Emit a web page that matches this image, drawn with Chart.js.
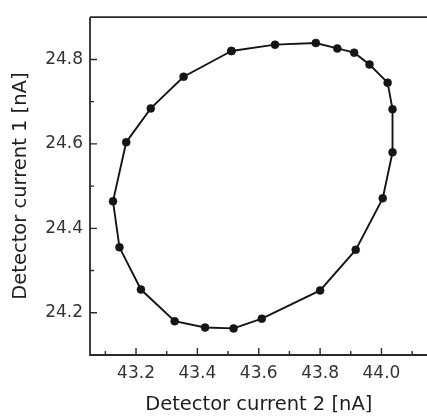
<!DOCTYPE html>
<html>
<head>
<meta charset="utf-8">
<script src="https://cdn.jsdelivr.net/npm/chart.js@4/dist/chart.umd.min.js"></script>
<style>
  html, body { margin: 0; padding: 0; background: #fff; overflow: hidden; }
  #wrap { width: 432px; height: 416px; }
</style>
</head>
<body>
<div id="wrap"><canvas id="loopChart" width="432" height="416"></canvas></div>
<script>
// Measured loop: detector current 2 (x) vs detector current 1 (y), in nA
const current2 = [43.511, 43.653, 43.786, 43.856, 43.911, 43.961, 44.020, 44.036,
	44.036, 44.004, 43.916, 43.800, 43.610, 43.518, 43.425, 43.326, 43.216, 43.146,
	43.125, 43.168, 43.248, 43.355];
const current1 = [24.820, 24.835, 24.839, 24.826, 24.816, 24.788, 24.745, 24.682,
	24.580, 24.471, 24.349, 24.253, 24.186, 24.163, 24.165, 24.180, 24.255, 24.355,
	24.464, 24.604, 24.684, 24.759];

// Tick values
const xMajorTicks = [43.2, 43.4, 43.6, 43.8, 44.0];
const xMinorTicks = [43.1, 43.3, 43.5, 43.7, 43.9, 44.1];
const yMajorTicks = [24.2, 24.4, 24.6, 24.8];
const yMinorTicks = [24.3, 24.5, 24.7];

const ink = "#151515";

// closed loop: go back to the first point at the end
const points = current2.map((x, i) => ({ x: x, y: current1[i] }));
points.push({ x: current2[0], y: current1[0] });

// Frame and inward tick marks
const framePlugin = {
	id: "frame",
	afterDatasetsDraw(chart) {
		const { ctx, chartArea, scales } = chart;
		const { left, top, right, bottom } = chartArea;
		ctx.save();
		ctx.strokeStyle = "#2a2a2a";
		ctx.lineWidth = 1.8;
		ctx.beginPath();
		ctx.moveTo(left, top);
		ctx.lineTo(right, top);
		ctx.moveTo(left, top);
		ctx.lineTo(left, bottom);
		ctx.lineTo(right, bottom);
		ctx.stroke();

		ctx.lineWidth = 1.4;
		ctx.beginPath();
		xMajorTicks.concat(xMinorTicks).forEach((v) => {
			const px = scales.x.getPixelForValue(v);
			const len = xMajorTicks.includes(v) ? 7 : 4;
			ctx.moveTo(px, bottom);
			ctx.lineTo(px, bottom - len);
		});
		yMajorTicks.concat(yMinorTicks).forEach((v) => {
			const py = scales.y.getPixelForValue(v);
			const len = yMajorTicks.includes(v) ? 7 : 4;
			ctx.moveTo(left, py);
			ctx.lineTo(left + len, py);
		});
		ctx.stroke();
		ctx.restore();
	},
};

new Chart(document.getElementById("loopChart"), {
	type: "scatter",
	data: {
		datasets: [
			{
				data: points,
				showLine: true,
				borderColor: ink,
				borderWidth: 1.9,
				pointRadius: 4,
				pointBackgroundColor: ink,
				pointBorderColor: ink,
				pointBorderWidth: 0.5,
				tension: 0,
			},
		],
	},
	options: {
		responsive: false,
		animation: false,
		layout: { padding: { top: 14, right: 0, bottom: 0, left: 0 } },
		plugins: {
			legend: { display: false },
			tooltip: { enabled: false },
		},
		scales: {
			x: {
				type: "linear",
				min: 43.05,
				max: 44.15,
				afterBuildTicks: (scale) => {
					scale.ticks = xMajorTicks.concat(xMinorTicks)
						.sort((a, b) => a - b)
						.map((v) => ({ value: v }));
				},
				afterFit: (scale) => { scale.height = 61; },
				grid: { display: false, drawTicks: false },
				border: { display: false },
				ticks: {
					autoSkip: false,
					maxRotation: 0,
					padding: 8,
					color: "#333",
					font: { family: "'DejaVu Sans', sans-serif", size: 17 },
					callback: (v) => (xMajorTicks.some((t) => Math.abs(t - v) < 1e-6) ? v.toFixed(1) : ""),
				},
				title: {
					display: true,
					text: "Detector current 2 [nA]",
					color: "#1e1e1e",
					padding: { top: 0, bottom: -1 },
					font: { family: "'DejaVu Sans', sans-serif", size: 19.5 },
				},
			},
			y: {
				type: "linear",
				min: 24.1,
				max: 24.9,
				afterBuildTicks: (scale) => {
					scale.ticks = yMajorTicks.concat(yMinorTicks)
						.sort((a, b) => a - b)
						.map((v) => ({ value: v }));
				},
				afterFit: (scale) => { scale.width = 90; },
				grid: { display: false, drawTicks: false },
				border: { display: false },
				ticks: {
					autoSkip: false,
					padding: 7,
					color: "#333",
					font: { family: "'DejaVu Sans', sans-serif", size: 17 },
					callback: (v) => (yMajorTicks.some((t) => Math.abs(t - v) < 1e-6) ? v.toFixed(1) : ""),
				},
				title: {
					display: true,
					text: "Detector current 1 [nA]",
					color: "#1e1e1e",
					padding: { top: 9, bottom: 0 },
					font: { family: "'DejaVu Sans', sans-serif", size: 19.5 },
				},
			},
		},
	},
	plugins: [framePlugin],
});
</script>
</body>
</html>
